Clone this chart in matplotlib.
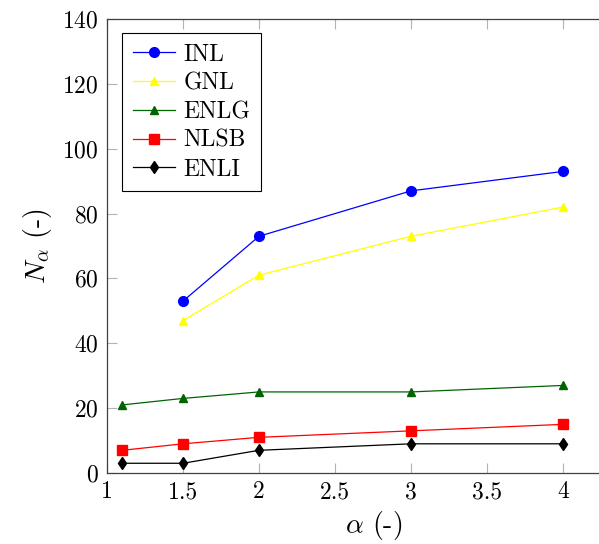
import matplotlib
matplotlib.use("Agg")
import matplotlib.pyplot as plt

plt.rcParams['font.family'] = 'serif'
plt.rcParams['font.serif'] = ['cmr10']
plt.rcParams['mathtext.fontset'] = 'cm'
plt.rcParams['axes.formatter.use_mathtext'] = True

# datos
x_inl = [1.5, 2, 3, 4]
inl = [53, 73, 87, 93]
x_gnl = [1.5, 2, 3, 4]
gnl = [47, 61, 73, 82]
x_otros = [1.1, 1.5, 2, 3, 4]
enlg = [21, 23, 25, 25, 27]
nlsb = [7, 9, 11, 13, 15]
enli = [3, 3, 7, 9, 9]

fig = plt.figure(figsize=(5.99, 5.44), dpi=100)
# ejes: el marco se corta a la derecha como en el original
ax = fig.add_axes([107/599, (544-473)/544, (640-107)/599, (473-19)/544])

ax.plot(x_inl, inl, color='blue', marker='o', markersize=7, linewidth=0.9, label='INL')
ax.plot(x_gnl, gnl, color='yellow', marker='^', markersize=6, linewidth=0.9, label='GNL')
ax.plot(x_otros, enlg, color='darkgreen', marker='^', markersize=6, linewidth=0.9, label='ENLG')
ax.plot(x_otros, nlsb, color='red', marker='s', markersize=7, linewidth=0.9, label='NLSB')
ax.plot(x_otros, enli, color='black', marker='d', markersize=6, linewidth=0.9, label='ENLI')

ax.set_xlim(1, 1 + (640-107)/152)
ax.set_ylim(0, 140)
ax.set_xticks([1, 1.5, 2, 2.5, 3, 3.5, 4])
ax.set_xticklabels(['1', '1.5', '2', '2.5', '3', '3.5', '4'])
ax.set_yticks(range(0, 141, 20))
ax.tick_params(direction='in', length=7, width=0.8, color='0.7',
               labelsize=17, top=True, right=True, pad=6)
for s in ax.spines.values():
    s.set_color('0.25')
    s.set_linewidth(0.9)

ax.set_xlabel(r'$\alpha$ (-)', fontsize=20, labelpad=4)
ax.set_ylabel(r'$N_\alpha$ (-)', fontsize=20, labelpad=6)

leg = ax.legend(loc='upper left', bbox_to_anchor=(15/533, 1 - 14/454), fontsize=17,
                fancybox=False, framealpha=1, edgecolor='black', borderaxespad=0,
                handlelength=1.8, labelspacing=0.28, borderpad=0.45, handletextpad=0.35)
leg.get_frame().set_linewidth(0.8)

fig.savefig('out.png', dpi=100)
